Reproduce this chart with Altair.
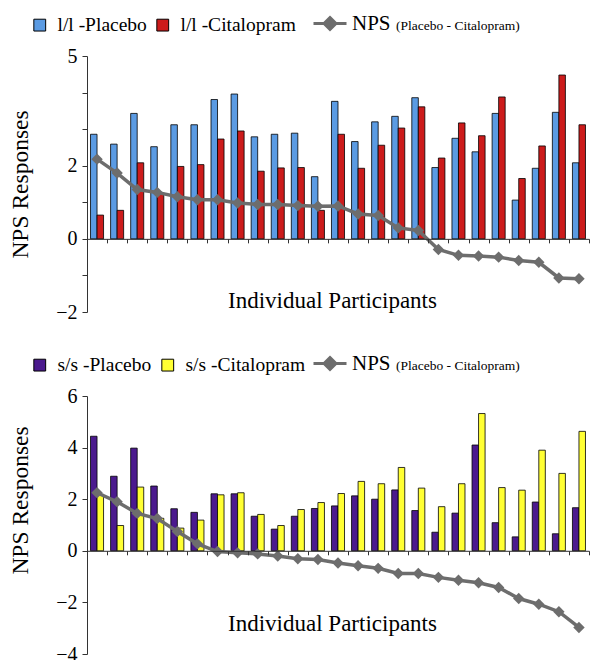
import json
import altair as alt
import pandas as pd

# ---------------- data ----------------
participants = list(range(1, 26))

ll_series = ["l/l -Placebo", "l/l -Citalopram"]
ll_placebo = [2.86, 2.59, 3.43, 2.52, 3.12, 3.12, 3.81, 3.96, 2.79, 2.86, 2.89, 1.70, 3.76,
              2.66, 3.20, 3.35, 3.86, 1.95, 2.75, 2.38, 3.43, 1.06, 1.93, 3.46, 2.08]
ll_citalopram = [0.65, 0.78, 2.08, 1.25, 1.98, 2.03, 2.73, 2.95, 1.85, 1.94, 1.95, 0.78, 2.86,
                 1.93, 2.56, 3.03, 3.61, 2.21, 3.17, 2.82, 3.88, 1.65, 2.54, 4.48, 3.12]
ll_nps = [2.18, 1.80, 1.35, 1.27, 1.15, 1.07, 1.07, 0.98, 0.94, 0.94, 0.91, 0.89, 0.90,
          0.68, 0.64, 0.30, 0.23, -0.29, -0.45, -0.47, -0.50, -0.59, -0.64, -1.07, -1.09]

ss_series = ["s/s -Placebo", "s/s -Citalopram"]
ss_placebo = [4.44, 2.89, 3.98, 2.51, 1.63, 1.49, 2.21, 2.21, 1.34, 0.84, 1.34, 1.64, 1.74,
              2.13, 2.00, 2.36, 1.56, 0.72, 1.46, 4.10, 1.09, 0.54, 1.89, 0.66, 1.67]
ss_citalopram = [2.19, 0.98, 2.47, 1.26, 0.88, 1.19, 2.17, 2.25, 1.41, 0.98, 1.60, 1.87, 2.22,
                 2.69, 2.60, 3.23, 2.43, 1.71, 2.60, 5.32, 2.45, 2.35, 3.90, 3.00, 4.63]
ss_nps = [2.25, 1.90, 1.45, 1.25, 0.75, 0.27, -0.03, -0.08, -0.12, -0.20, -0.31, -0.34, -0.47,
          -0.58, -0.68, -0.88, -0.88, -1.03, -1.14, -1.24, -1.42, -1.85, -2.07, -2.36, -2.97]

ll_colors = ["#5B9BE3", "#CC1B1B"]
ss_colors = ["#4B1A8E", "#FFFF33"]

ll_ticks = [-2, -1, 0, 1, 2, 3, 4, 5]
ll_tick_labels = [-2, 0, 2, 5]
ss_ticks = [-4, -2, 0, 2, 4, 6]
ss_tick_labels = [-4, -2, 0, 2, 4, 6]

nps_label = "NPS"
nps_note = "(Placebo - Citalopram)"
x_title = "Individual Participants"
y_title = "NPS Responses"

# ---------------- style ----------------
FONT = "Liberation Serif"
GRAY = "#6d6d6d"
AXIS_COLOR = "#333333"
W = 502
DIAMOND_LINE = "M-1,0L1,0M0,-0.36L0.36,0L0,0.36L-0.36,0Z"


def panel(series, colors, placebo, citalopram, nps, ymin, ymax, ticks, tick_labels,
          H, x_title_pad, y_title_y, legend_y):
    bars = pd.DataFrame({
        "participant": participants * 2,
        "series": [series[0]] * len(participants) + [series[1]] * len(participants),
        "value": placebo + citalopram,
    })
    line = pd.DataFrame({
        "participant": participants,
        "value": nps,
        "lbl": [nps_label] * len(participants),
    })
    axis_offset = -H * (0 - ymin) / (ymax - ymin)
    y_scale = alt.Scale(domain=[ymin, ymax], nice=False, zero=False)
    x_scale = alt.Scale(paddingInner=0, paddingOuter=0)
    label_expr = "indexof(" + json.dumps(tick_labels) + ", datum.value) >= 0 ? datum.label : ''"

    x_axis = alt.Axis(title=x_title, labels=False, tickBand="extent",
                      offset=axis_offset, domainColor=AXIS_COLOR, tickColor=AXIS_COLOR,
                      tickSize=4, titleFont=FONT, titleFontSize=23,
                      titleFontWeight="normal", titleColor="black",
                      titlePadding=x_title_pad, titleX=245, zindex=1)
    y_axis = alt.Axis(title=y_title, values=ticks, labelExpr=label_expr,
                      grid=False, domainColor=AXIS_COLOR, tickColor=AXIS_COLOR,
                      tickSize=5, labelFont=FONT, labelFontSize=20,
                      labelColor="black", labelPadding=5, titleFont=FONT,
                      titleFontSize=23.5, titleFontWeight="normal",
                      titleColor="black", titlePadding=23, titleY=y_title_y)
    x_enc = alt.X("participant:O", scale=x_scale, axis=x_axis)
    y_enc = alt.Y("value:Q", scale=y_scale, axis=y_axis)

    bar_layer = alt.Chart(bars).mark_bar(stroke="black", strokeWidth=0.8).encode(
        x=x_enc,
        xOffset=alt.XOffset("series:N", sort=series,
                            scale=alt.Scale(paddingOuter=0.54, paddingInner=0)),
        y=y_enc,
        color=alt.Color("series:N", sort=series,
                        scale=alt.Scale(domain=series, range=colors),
                        legend=alt.Legend(orient="none", legendX=-57, legendY=legend_y,
                                          direction="horizontal", title=None,
                                          symbolType="square", symbolSize=140,
                                          symbolStrokeColor="black", symbolStrokeWidth=1,
                                          labelFont=FONT, labelFontSize=19.5,
                                          labelColor="black", labelOffset=8,
                                          columnPadding=6, padding=0)),
    )

    line_layer = alt.Chart(line).mark_line(strokeWidth=3.5).encode(
        x=x_enc,
        y=y_enc,
        stroke=alt.Stroke("lbl:N", scale=alt.Scale(domain=[nps_label], range=[GRAY]),
                          legend=alt.Legend(orient="none", legendX=225,
                                            legendY=legend_y - 9.5,
                                            title=nps_note, titleOrient="right",
                                            titleFont=FONT, titleFontSize=13.5,
                                            titleFontWeight="normal", titleColor="black",
                                            titleBaseline="line-bottom", titleAnchor="end",
                                            titleLineHeight=19, titlePadding=5,
                                            symbolType=DIAMOND_LINE, symbolSize=1089,
                                            symbolStrokeWidth=3, symbolFillColor=GRAY,
                                            symbolStrokeColor=GRAY,
                                            labelFont=FONT, labelFontSize=21,
                                            labelColor="black", labelOffset=4, padding=0)),
    )

    point_layer = alt.Chart(line).mark_point(shape="diamond", filled=True, size=130,
                                             color=GRAY, opacity=1).encode(
        x=x_enc,
        y=y_enc,
    )

    return alt.layer(bar_layer, line_layer, point_layer).resolve_scale(
        color="independent", stroke="independent"
    ).properties(width=W, height=H)


top = panel(ll_series, ll_colors, ll_placebo, ll_citalopram, ll_nps,
            -2, 5, ll_ticks, ll_tick_labels, 256, 46, 128, -41)
bottom = panel(ss_series, ss_colors, ss_placebo, ss_citalopram, ss_nps,
               -4, 6, ss_ticks, ss_tick_labels, 258, 57, 104, -41)

chart = alt.vconcat(top, bottom, spacing=23).resolve_scale(
    color="independent", stroke="independent", x="independent", y="independent",
    xOffset="independent"
).resolve_legend(color="independent", stroke="independent").configure_view(
    stroke=None
).properties(padding={"top": -3, "left": 0, "right": 0, "bottom": 0})

chart.save("out.html", embed_options={"renderer": "svg", "actions": False})
